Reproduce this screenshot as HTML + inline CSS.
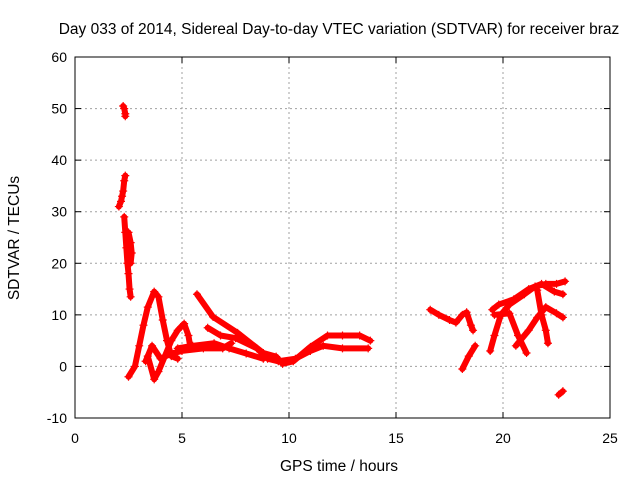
<!DOCTYPE html>
<html><head><meta charset="utf-8"><style>
body{margin:0;background:#fff}
svg{display:block;font-family:"Liberation Sans",sans-serif}
</style></head><body>
<svg width="640" height="480">
<rect width="640" height="480" fill="#fff"/>
<text x="339" y="34" font-size="15.5" text-anchor="middle">Day 033 of 2014, Sidereal Day-to-day VTEC variation (SDTVAR) for receiver braz</text>
<g id="grid"></g>
<g id="marks"></g>
<g id="axes"></g>
<text x="339" y="471" font-size="15.5" text-anchor="middle">GPS time / hours</text>
<text transform="translate(19,238) rotate(-90)" font-size="15.5" text-anchor="middle">SDTVAR / TECUs</text>
</svg>
<script>
const xTicks=[0,5,10,15,20,25];
const yTicks=[-10,0,10,20,30,40,50,60];
const trackEarly1=[[2.05,31],[2.15,32],[2.2,33],[2.25,34],[2.3,36],[2.35,37]];
const trackEarly2=[[2.25,50.5],[2.3,50],[2.35,49],[2.35,48.5]];
const trackEarly3=[[2.3,29],[2.35,26],[2.4,23],[2.45,20],[2.5,18],[2.55,15],[2.6,13.5]];
const trackEarly4=[[2.5,26],[2.6,24],[2.65,22],[2.6,20]];
const trackA=[[2.5,-2],[2.8,0],[3.0,4],[3.2,8],[3.4,11.5],[3.7,14.5],[3.9,13.5],[4.1,9],[4.3,5],[4.5,2],[4.8,1.5]];
const trackB=[[3.4,2],[3.7,-2.5],[3.9,-1],[4.2,2],[4.5,5],[4.8,7],[5.1,8.3],[5.3,6],[5.4,3.5]];
const trackC=[[3.3,1],[3.6,4],[4.0,1.5],[4.5,2.5],[5.0,3],[6.0,3.5],[6.9,3.5],[7.3,4.5]];
const trackD=[[5.7,14],[6.45,9.6],[7.6,6.5],[8.8,2.6],[9.4,1.9],[9.7,0.5],[10.2,1],[11,3.8],[11.8,6],[12.5,6],[13.3,6],[13.8,5]];
const trackE=[[6.2,7.5],[6.8,6],[7.5,5.5],[8.5,3.5],[9,1.5],[9.5,1],[10.3,1.5],[11,3],[11.6,4],[12.5,3.5],[13.7,3.5]];
const trackF=[[4.8,3.5],[5.5,4],[6.5,4.5],[7.2,3.5],[8,2.5],[8.8,1.5]];
const trackR1=[[16.6,11],[17,10],[17.5,9],[17.8,8.5],[18.1,10],[18.3,10.5],[18.5,8],[18.6,7]];
const trackR2=[[18.1,-0.5],[18.4,2],[18.7,4]];
const trackG=[[19.4,3],[19.6,6],[19.9,10],[20.3,12],[21,14],[21.5,15.5],[22,16],[22.5,16],[22.9,16.5]];
const trackH=[[19.5,11],[19.8,12],[20.5,13],[21.2,15],[21.8,16],[22.4,14.5],[22.8,14]];
const trackI=[[19.6,10],[20.3,10.3],[20.7,6],[21.1,2.6]];
const trackJ=[[21.6,14.8],[21.8,10],[22,7],[22.1,4.5]];
const trackK=[[20.6,4],[21.2,7],[21.6,9.5],[22,11.5],[22.5,10.3],[22.8,9.5]];
const trackL=[[22.6,-5.5],[22.8,-4.8]];
const tracks=[trackEarly1,trackEarly2,trackEarly3,trackEarly4,trackA,trackB,trackC,trackD,trackE,trackF,trackR1,trackR2,trackG,trackH,trackI,trackJ,trackK,trackL];
const NS='http://www.w3.org/2000/svg';
const X0=75,X1=610,Y0=418,Y1=57;
function sx(h){return X0+(h-0)/25*(X1-X0);}
function sy(v){return Y0-(v+10)/70*(Y0-Y1);}
function mk(t,a,p){const e=document.createElementNS(NS,t);for(const k in a)e.setAttribute(k,a[k]);p.appendChild(e);return e;}
const grid=document.getElementById('grid'),axes=document.getElementById('axes'),marks=document.getElementById('marks');
xTicks.forEach(t=>{
 const x=sx(t);
 if(t>0&&t<25){const l=mk('line',{x1:x,x2:x,y1:Y1,y2:Y0,stroke:'#a0a0a0','stroke-dasharray':'2,3'},grid);
 
 }
 mk('line',{x1:x,x2:x,y1:Y0,y2:Y0-6,stroke:'#000'},axes);
 mk('line',{x1:x,x2:x,y1:Y1,y2:Y1+6,stroke:'#000'},axes);
 const tx=mk('text',{x:x,y:443,'font-size':14,'text-anchor':'middle'},axes);tx.textContent=t;
 
 
});
yTicks.forEach(t=>{
 const y=sy(t);
 if(t>-10&&t<60){const l=mk('line',{x1:X0,x2:X1,y1:y,y2:y,stroke:'#a0a0a0','stroke-dasharray':'2,3'},grid);
 
 }
 mk('line',{x1:X0,x2:X0+6,y1:y,y2:y,stroke:'#000'},axes);
 mk('line',{x1:X1,x2:X1-6,y1:y,y2:y,stroke:'#000'},axes);
 const tx=mk('text',{x:X0-8,y:y+5,'font-size':14,'text-anchor':'end'},axes);tx.textContent=t;
 
 
});
const fr=mk('rect',{x:X0,y:Y1,width:X1-X0,height:Y0-Y1,fill:'none',stroke:'#000'},axes);


tracks.forEach(tr=>{
 const pl=mk('polyline',{points:tr.map(p=>sx(p[0])+','+sy(p[1])).join(' '),fill:'none',stroke:'#f00','stroke-width':6,'stroke-linejoin':'round','stroke-linecap':'round'},marks);
 
 
 tr.forEach(p=>{
  const x=sx(p[0]),y=sy(p[1]);
  const m=mk('path',{d:`M${x-4},${y}H${x+4}M${x},${y-4}V${y+4}`,stroke:'#f00','stroke-width':1.2},marks);
  
  
 });
});
</script>
</body></html>
